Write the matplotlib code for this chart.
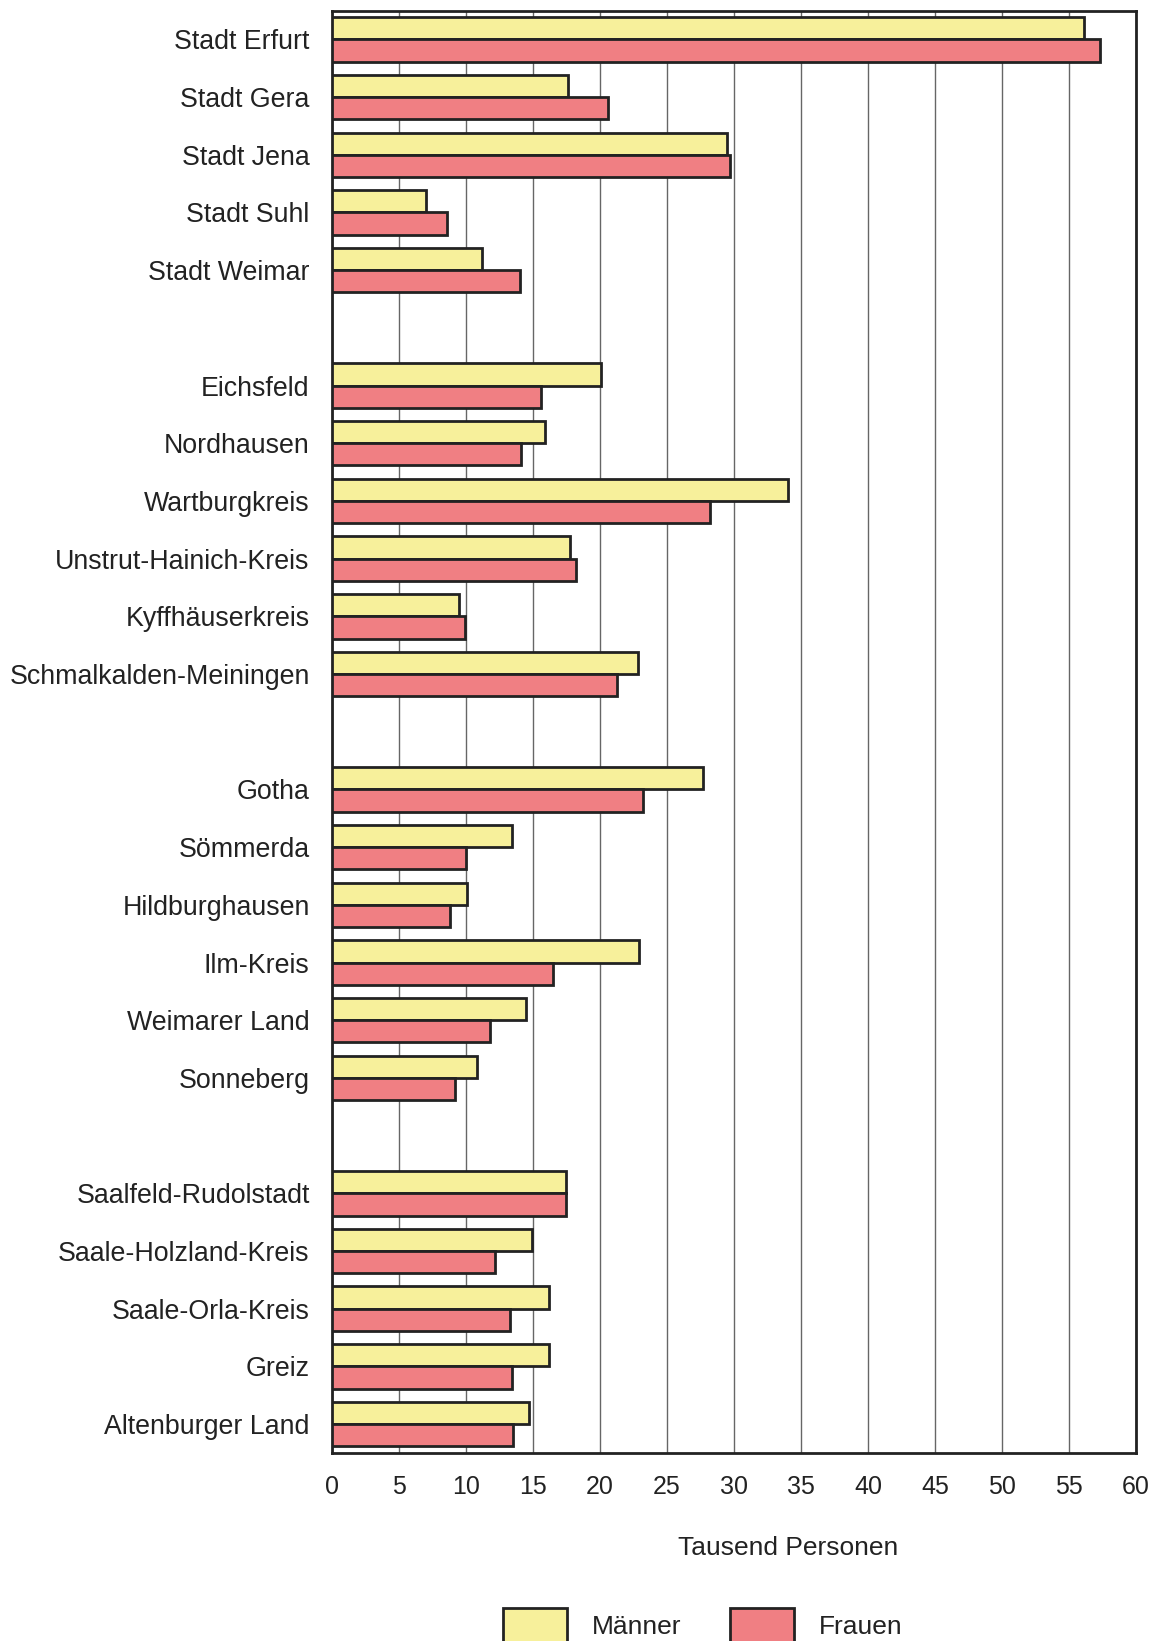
"""
Horizontal bar chart: Männer / Frauen per Kreis (Thüringen), Tausend Personen.
"""

import numpy as np
import matplotlib
matplotlib.use("Agg")
import matplotlib.pyplot as plt

plt.rcParams["font.family"] = ["Liberation Sans", "DejaVu Sans"]

# Kreise in drawing order, grouped; None marks an empty slot between groups
kreise = [
    "Stadt Erfurt", "Stadt Gera", "Stadt Jena", "Stadt Suhl", "Stadt Weimar",
    None,
    "Eichsfeld", "Nordhausen", "Wartburgkreis", "Unstrut-Hainich-Kreis",
    "Kyffhäuserkreis", "Schmalkalden-Meiningen",
    None,
    "Gotha", "Sömmerda", "Hildburghausen", "Ilm-Kreis", "Weimarer Land",
    "Sonneberg",
    None,
    "Saalfeld-Rudolstadt", "Saale-Holzland-Kreis", "Saale-Orla-Kreis",
    "Greiz", "Altenburger Land",
]

maenner = [56.1, 17.6, 29.5, 7.0, 11.2,
           20.1, 15.9, 34.0, 17.8, 9.5, 22.8,
           27.7, 13.4, 10.1, 22.9, 14.5, 10.8,
           17.5, 14.9, 16.2, 16.2, 14.7]
frauen = [57.3, 20.6, 29.7, 8.6, 14.0,
          15.6, 14.1, 28.2, 18.2, 9.9, 21.3,
          23.2, 10.0, 8.8, 16.5, 11.8, 9.2,
          17.45, 12.2, 13.3, 13.4, 13.5]

x_ticks = np.arange(0, 61, 5)

YELLOW = "#F7F09B"
RED = "#F07F83"

fig = plt.figure(figsize=(11.59, 16.41), dpi=100)
ax = fig.add_axes([0.2864, 0.1146, 0.6938, 0.8790])

slots = np.arange(len(kreise))
pos = slots[[k is not None for k in kreise]]
labels = [k for k in kreise if k is not None]

bh = 0.385
ax.barh(pos - bh / 2, maenner, height=bh, color=YELLOW, edgecolor="#222222",
        linewidth=2.0, label="Männer", zorder=3)
ax.barh(pos + bh / 2, frauen, height=bh, color=RED, edgecolor="#222222",
        linewidth=2.0, label="Frauen", zorder=3)

ax.set_ylim(len(kreise) - 0.5, -0.5)
ax.set_xlim(0, 60)
ax.set_yticks(pos)
ax.set_yticklabels(labels, fontsize=19.3, color="#222222")
ax.set_xticks(x_ticks)
ax.set_xticklabels([str(v) for v in x_ticks], fontsize=18, color="#222222")
ax.tick_params(axis="y", length=0, pad=16)
ax.tick_params(axis="x", length=0, pad=16)

ax.grid(axis="x", color="#666666", linewidth=1.0, zorder=0)
ax.set_axisbelow(True)
for s in ax.spines.values():
    s.set_linewidth(2.0)
    s.set_color("#222222")

fig.text(788 / 1159, 1 - 1548 / 1641, "Tausend Personen", fontsize=19,
         color="#222222", ha="center", va="center")

fig.legend(loc="upper left", bbox_to_anchor=(503 / 1159, 1 - 1608 / 1641),
           ncol=2, frameon=False, fontsize=19, handlelength=2.42,
           handleheight=1.6, handletextpad=0.95, columnspacing=1.85,
           borderpad=0, borderaxespad=0, labelcolor="#222222")

fig.savefig("out.png", dpi=100)
